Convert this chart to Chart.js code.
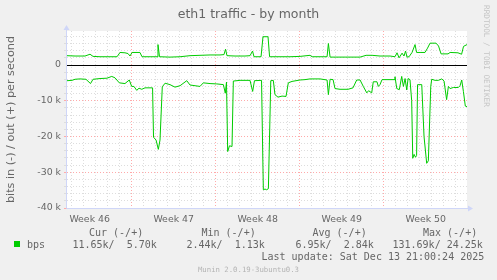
<!DOCTYPE html>
<html>
<head>
<meta charset="utf-8">
<script src="https://cdn.jsdelivr.net/npm/chart.js@4.4.1/dist/chart.umd.min.js"></script>
<style>
  html, body { margin: 0; padding: 0; background: #f0f0f0; }
  #wrap { position: relative; width: 497px; height: 280px; overflow: hidden; font-family: 'DejaVu Sans', sans-serif; color: #666; }
  #chart { position: absolute; left: 0; top: 0; }
  .t { position: absolute; white-space: pre; line-height: 12px; }
  .mono { font-family: 'DejaVu Sans Mono', monospace; font-size: 10px; }
  #title { left: 0; width: 497px; top: 6px; text-align: center; font-size: 12.5px; line-height: 15px; }
  #mark { left: 481px; top: 5px; writing-mode: vertical-rl; font-family: 'DejaVu Sans Mono', monospace; font-size: 7.7px; color: #c4c4c4; line-height: 10px; }
  #footer { left: 0; width: 497px; top: 265px; text-align: center; font-family: 'DejaVu Sans Mono', monospace; font-size: 7.3px; color: #b4b4b4; line-height: 10px; }
  #swatch { position: absolute; left: 14px; top: 241px; width: 6px; height: 6px; background: #00cc00; }
</style>
</head>
<body>
<div id="wrap">
  <canvas id="chart" width="497" height="280"></canvas>
  <div class="t" id="title">eth1 traffic - by month</div>
  <div class="t" id="mark">RRDTOOL / TOBI OETIKER</div>

  <div class="t mono" style="left:89px; top:227px">Cur (-/+)</div>
  <div class="t mono" style="left:201.5px; top:227px">Min (-/+)</div>
  <div class="t mono" style="left:312.5px; top:227px">Avg (-/+)</div>
  <div class="t mono" style="left:423px; top:227px">Max (-/+)</div>

  <div id="swatch"></div>
  <div class="t mono" style="left:27px; top:239px">bps</div>
  <div class="t mono" style="left:72.5px; top:239px">11.65k/  5.70k</div>
  <div class="t mono" style="left:186.5px; top:239px">2.44k/  1.13k</div>
  <div class="t mono" style="left:295.5px; top:239px">6.95k/  2.84k</div>
  <div class="t mono" style="left:392.5px; top:239px">131.69k/ 24.25k</div>

  <div class="t mono" style="left:261.5px; top:251px">Last update: Sat Dec 13 21:00:24 2025</div>
  <div class="t" id="footer">Munin 2.0.19-3ubuntu0.3</div>
</div>

<script>
// ==================== DATOS ====================
// x = days since Mon Nov 10 2025 00:00 (start of week 46)
const outDays = [1.61, 2.28, 3.11, 3.53, 3.78, 4.36, 5.19, 5.78, 6.03, 6.44, 6.69, 6.86, 7.03, 7.69, 7.86, 8.53, 9.11, 9.19, 9.32, 10.19,
  11.03, 11.86, 12.69, 13.53, 14.36, 14.69, 14.82, 14.94, 15.61, 16.44, 16.86, 17.07, 17.19, 17.78, 17.94, 18.36, 18.49, 19.36, 20.19, 21.03,
  21.86, 22.03, 22.69, 23.28, 23.39, 23.53, 24.78, 26.03, 26.53, 27.03, 27.69, 28.53, 28.94, 29.11, 29.28, 29.53, 29.69, 29.82, 29.94, 30.11,
  30.36, 30.61, 30.74, 31.03, 31.44, 31.65, 31.86, 32.36, 32.57, 32.78, 33.36, 33.53, 34.19, 34.49, 34.65, 34.94];
const outBps = [2600, 2500, 2500, 3000, 2400, 2300, 2300, 2300, 3500, 3400, 3200, 2500, 3500, 3500, 2300, 2300, 2300, 5700, 2300, 2200,
  2300, 2600, 2700, 2800, 2800, 2900, 4400, 2600, 2500, 2500, 2600, 3900, 2300, 2300, 7900, 7900, 2300, 2300, 2300, 2400,
  2700, 2300, 2300, 2300, 6000, 2200, 2200, 2200, 2700, 2700, 2500, 2500, 2300, 3400, 2000, 3300, 2500, 3900, 2200, 2300,
  3500, 5700, 3500, 3500, 3500, 4700, 6100, 6100, 5300, 3100, 3100, 3500, 3400, 3000, 5200, 5700];

const inDays = [1.61, 2.03, 2.28, 2.69, 3.19, 3.57, 3.78, 4.36, 4.94, 5.34, 5.61, 5.97, 6.44, 6.80, 7.00, 7.19, 7.42, 7.61, 7.84, 8.11,
  8.74, 8.82, 9.03, 9.22, 9.36, 9.55, 9.78, 10.19, 10.61, 11.03, 11.59, 11.86, 12.28, 12.69, 12.97, 13.53, 14.09, 14.64, 14.80, 14.90,
  15.00, 15.15, 15.36, 15.47, 16.03, 16.86, 17.08, 17.23, 17.82, 17.97, 18.11, 18.24, 18.39, 18.59, 18.80, 18.94, 19.19, 19.53, 19.86, 20.05,
  20.36, 21.03, 21.44, 21.86, 22.69, 23.28, 23.39, 23.53, 23.78, 23.94, 24.36, 25.03, 25.44, 25.75, 26.03, 26.30, 26.59, 26.74, 27.00, 27.13,
  27.44, 27.55, 27.69, 27.86, 28.86, 28.94, 29.09, 29.30, 29.50, 29.64, 29.78, 29.92, 30.03, 30.19, 30.33, 30.42, 30.53, 30.65, 30.74, 30.82,
  31.17, 31.36, 31.58, 31.72, 31.92, 32.00, 32.28, 32.55, 32.84, 33.03, 33.24, 33.39, 33.53, 33.80, 34.22, 34.36, 34.50, 34.64, 34.80, 34.94];
const inBps = [-4400, -4300, -4000, -3900, -4000, -5200, -4000, -3800, -3700, -3200, -3600, -5000, -5200, -4200, -6000, -6000, -7100, -6500, -6800, -6400,
  -6400, -20200, -21000, -23600, -21000, -6100, -5100, -5500, -6200, -5800, -4400, -5600, -5800, -6000, -5000, -5200, -5300, -5500, -7900, -4800,
  -24200, -22600, -22800, -4500, -4300, -4300, -7400, -4400, -4300, -34900, -34700, -34900, -34600, -4400, -4300, -8300, -9000, -8700, -8800, -5000,
  -4600, -4200, -4100, -3900, -3900, -4200, -8300, -4000, -4100, -6600, -6800, -6800, -6400, -4200, -4200, -6000, -7800, -7200, -7800, -4700,
  -4700, -6000, -5500, -4100, -4100, -3300, -6600, -6900, -3200, -6000, -3800, -7000, -3800, -4100, -10000, -26100, -25000, -25800, -25300, -5500,
  -5500, -20000, -27500, -26800, -6000, -4000, -4300, -4300, -3900, -4500, -9700, -6000, -6600, -6300, -6300, -5800, -4200, -7400, -11500, -11650];

const weekPos = [3.5, 10.5, 17.5, 24.5, 31.5];
const weekLabels = ['Week 46', 'Week 47', 'Week 48', 'Week 49', 'Week 50'];
const yLabelValues = [0, -10000, -20000, -30000, -40000];
const yLabelTexts = ['0', '-10 k', '-20 k', '-30 k', '-40 k'];

const X_MIN = 1.61, X_MAX = 34.94;
const Y_MIN = -40000, Y_MAX = 9500, Y_STEP = 2000;

const GREEN = '#00cc00';
const AXIS = '#cfd6f8';
const MGRID = '#ffaaaa';
const GRID = '#dddddd';
const FONT = { family: 'DejaVu Sans', size: 9.4 };

// ==================== PLUGINS ====================
const canvasBg = {
    id: 'canvasBg',
    beforeDraw(chart) {
        const { ctx, chartArea: a } = chart;
        ctx.save();
        ctx.fillStyle = '#ffffff';
        ctx.fillRect(a.left, a.top, a.right - a.left, a.bottom - a.top);
        ctx.restore();
    }
};

const axisLines = {
    id: 'axisLines',
    beforeDatasetsDraw(chart) {
        const { ctx, chartArea: a, scales } = chart;
        const y0 = Math.round(scales.y.getPixelForValue(0)) + 0.5;
        ctx.save();
        ctx.strokeStyle = '#000000';
        ctx.lineWidth = 1;
        ctx.beginPath();
        ctx.moveTo(a.left, y0);
        ctx.lineTo(a.right, y0);
        ctx.stroke();

        // ejes con flechas
        const xl = Math.round(a.left) - 0.5, yb = Math.round(a.bottom) + 0.5;
        ctx.strokeStyle = AXIS;
        ctx.fillStyle = AXIS;
        ctx.beginPath();
        ctx.moveTo(xl, yb);
        ctx.lineTo(xl, a.top - 3);
        ctx.moveTo(xl, yb);
        ctx.lineTo(a.right + 3, yb);
        ctx.stroke();
        ctx.beginPath();
        ctx.moveTo(xl - 3, a.top - 1);
        ctx.lineTo(xl + 3, a.top - 1);
        ctx.lineTo(xl, a.top - 6);
        ctx.closePath();
        ctx.fill();
        ctx.beginPath();
        ctx.moveTo(a.right + 1, yb - 3);
        ctx.lineTo(a.right + 1, yb + 3);
        ctx.lineTo(a.right + 6, yb);
        ctx.closePath();
        ctx.fill();
        ctx.restore();
    }
};

// ==================== GRÁFICO ====================
new Chart(document.getElementById('chart'), {
    type: 'line',
    data: {
        datasets: [
            {
                label: 'out',
                data: outDays.map((d, i) => ({ x: d, y: outBps[i] })),
                borderColor: GREEN,
                borderWidth: 1,
                pointRadius: 0,
                tension: 0,
                fill: false
            },
            {
                label: 'in',
                data: inDays.map((d, i) => ({ x: d, y: inBps[i] })),
                borderColor: GREEN,
                borderWidth: 1,
                pointRadius: 0,
                tension: 0,
                fill: false
            }
        ]
    },
    options: {
        responsive: false,
        animation: false,
        layout: { padding: { top: 31, right: 30, bottom: 52, left: 0 } },
        plugins: { legend: { display: false }, tooltip: { enabled: false } },
        scales: {
            x: {
                type: 'linear',
                min: X_MIN,
                max: X_MAX,
                afterBuildTicks(scale) {
                    const ticks = [];
                    for (let v = 2; v <= 34.5; v += 0.5) ticks.push({ value: v });
                    scale.ticks = ticks;
                },
                afterFit(scale) { scale.height = 20; },
                border: { display: false, dash: [1, 2] },
                grid: {
                    drawTicks: false,
                    color: ctx => {
                        const v = ctx.tick.value;
                        if (v % 1 !== 0) return 'rgba(0,0,0,0)';
                        return v % 7 === 0 ? MGRID : GRID;
                    }
                },
                ticks: {
                    autoSkip: false,
                    maxRotation: 0,
                    padding: 6,
                    color: '#666',
                    font: FONT,
                    callback: v => {
                        const i = weekPos.indexOf(v);
                        return i >= 0 ? weekLabels[i] : '';
                    }
                }
            },
            y: {
                min: Y_MIN,
                max: Y_MAX,
                afterBuildTicks(scale) {
                    const ticks = [];
                    for (let v = Y_MIN; v < Y_MAX; v += Y_STEP) ticks.push({ value: v });
                    scale.ticks = ticks;
                },
                afterFit(scale) { scale.width = 67; },
                border: { display: false, dash: [1, 2] },
                grid: {
                    tickLength: 3,
                    color: ctx => {
                        const v = ctx.tick.value;
                        if (v === 0) return 'rgba(0,0,0,0)';
                        return v % 10000 === 0 ? MGRID : GRID;
                    }
                },
                title: {
                    display: true,
                    text: 'bits in (-) / out (+) per second',
                    color: '#666',
                    font: { family: 'DejaVu Sans', size: 11.2 },
                    padding: { top: 4.5, bottom: 0 }
                },
                ticks: {
                    autoSkip: false,
                    padding: 3,
                    color: '#666',
                    font: FONT,
                    callback: v => {
                        const i = yLabelValues.indexOf(v);
                        return i >= 0 ? yLabelTexts[i] : '';
                    }
                }
            }
        }
    },
    plugins: [canvasBg, axisLines]
});
</script>
</body>
</html>
